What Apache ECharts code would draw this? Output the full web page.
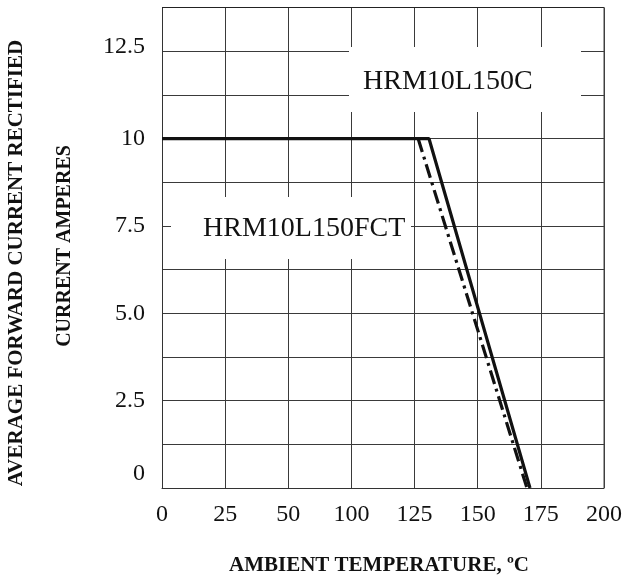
<!DOCTYPE html>
<html>
<head>
<meta charset="utf-8">
<script src="https://cdn.jsdelivr.net/npm/echarts@6/dist/echarts.min.js"></script>
<style>
html,body{margin:0;padding:0;background:#fff;}
#chart{width:632px;height:581px;}
</style>
</head>
<body>
<div id="chart"></div>
<script>
// tick labels of the temperature axis (note: no 75 on the original)
var xTickLabels = [0, 25, 50, 100, 125, 150, 175, 200];
var yTickLabels = ['0', '2.5', '5.0', '7.5', '10', '12.5'];
// HRM10L150C (solid)
var solidTemp = [0, 130.7, 170.7];
var solidCurr = [10, 10, 0];
// HRM10L150FCT (dash-dot)
var dashTemp = [126.4, 169.5];
var dashCurr = [10, 0];

function toAxis(t) {
  for (var i = 0; i < xTickLabels.length - 1; i++) {
    var a = xTickLabels[i], b = xTickLabels[i + 1];
    if (t <= b) return i + (t - a) / (b - a);
  }
  return xTickLabels.length - 1;
}
function pairs(ts, cs) {
  return ts.map(function (t, i) { return [toAxis(t), cs[i]]; });
}

var FONT = 'Liberation Serif';
var chart = echarts.init(document.getElementById('chart'), null, {renderer: 'canvas'});
var grid = {left: 162, right: 28, top: 7.5, bottom: 93};

chart.setOption({
  animation: false,
  backgroundColor: '#fff',
  grid: grid,
  xAxis: {
    type: 'value', min: 0, max: xTickLabels.length - 1, interval: 1,
    axisLine: {show: true, lineStyle: {color: '#333', width: 1}},
    axisTick: {show: false},
    splitLine: {show: true, lineStyle: {color: '#3a3a3a', width: 1}},
    axisLabel: {
      margin: 15, color: '#111', fontFamily: FONT, fontSize: 24,
      formatter: function (v) { return String(xTickLabels[Math.round(v)]); }
    }
  },
  yAxis: {
    type: 'value', min: 0, max: 13.75, interval: 1.25,
    axisLine: {show: true, lineStyle: {color: '#333', width: 1}},
    axisTick: {show: false},
    splitLine: {show: true, lineStyle: {color: '#3a3a3a', width: 1}},
    axisLabel: {
      margin: 17, color: '#111', fontFamily: FONT, fontSize: 24,
      formatter: function (v) {
        var k = v / 2.5;
        if (Math.abs(k - Math.round(k)) > 1e-6) return '';
        var s = yTickLabels[Math.round(k)];
        if (Math.round(k) === 0) return '{lo|' + s + '}';
        if (Math.round(k) === 5) return '{hi|' + s + '}';
        return s;
      },
      rich: {
        lo: {fontFamily: FONT, fontSize: 24, color: '#111', padding: [0, 0, 28, 0]},
        hi: {fontFamily: FONT, fontSize: 24, color: '#111', padding: [0, 0, 8, 0]}
      }
    }
  },
  graphic: [
    {type: 'line', z: 5, shape: {x1: 162, y1: 7.5, x2: 604, y2: 7.5}, style: {stroke: '#222', lineWidth: 1}},
    {type: 'line', z: 5, shape: {x1: 604, y1: 7.5, x2: 604, y2: 488}, style: {stroke: '#444', lineWidth: 1}},
    {type: 'rect', z: 5, shape: {x: 349, y: 47, width: 232, height: 65}, style: {fill: '#fff'}},
    {type: 'text', z: 6, left: 363, top: 68, style: {text: 'HRM10L150C', font: '28px "Liberation Serif"', fill: '#111'}},
    {type: 'rect', z: 5, shape: {x: 171, y: 197, width: 240, height: 62}, style: {fill: '#fff'}},
    {type: 'text', z: 6, left: 203, top: 215, style: {text: 'HRM10L150FCT', font: '28px "Liberation Serif"', fill: '#111'}},
    {type: 'text', z: 6, x: 17, y: 263, rotation: Math.PI / 2,
      style: {text: 'AVERAGE FORWARD CURRENT RECTIFIED', font: 'bold 21px "Liberation Serif"', fill: '#111',
        align: 'center', verticalAlign: 'middle'}},
    {type: 'text', z: 6, x: 65, y: 246, rotation: Math.PI / 2,
      style: {text: 'CURRENT AMPERES', font: 'bold 20px "Liberation Serif"', fill: '#111',
        align: 'center', verticalAlign: 'middle'}},
    {type: 'text', z: 6, x: 379, y: 566,
      style: {text: 'AMBIENT TEMPERATURE, ºC', font: 'bold 21px "Liberation Serif"', fill: '#111',
        align: 'center', verticalAlign: 'middle'}}
  ],
  series: [
    {
      name: 'HRM10L150FCT', type: 'line', z: 3, symbol: 'none',
      data: pairs(dashTemp, dashCurr),
      lineStyle: {color: '#111', width: 3.2, type: [14, 5, 3, 5]}
    },
    {
      name: 'HRM10L150C', type: 'line', z: 4, symbol: 'none',
      data: pairs(solidTemp, solidCurr),
      lineStyle: {color: '#111', width: 3.2, type: 'solid'}
    }
  ]
});
</script>
</body>
</html>
